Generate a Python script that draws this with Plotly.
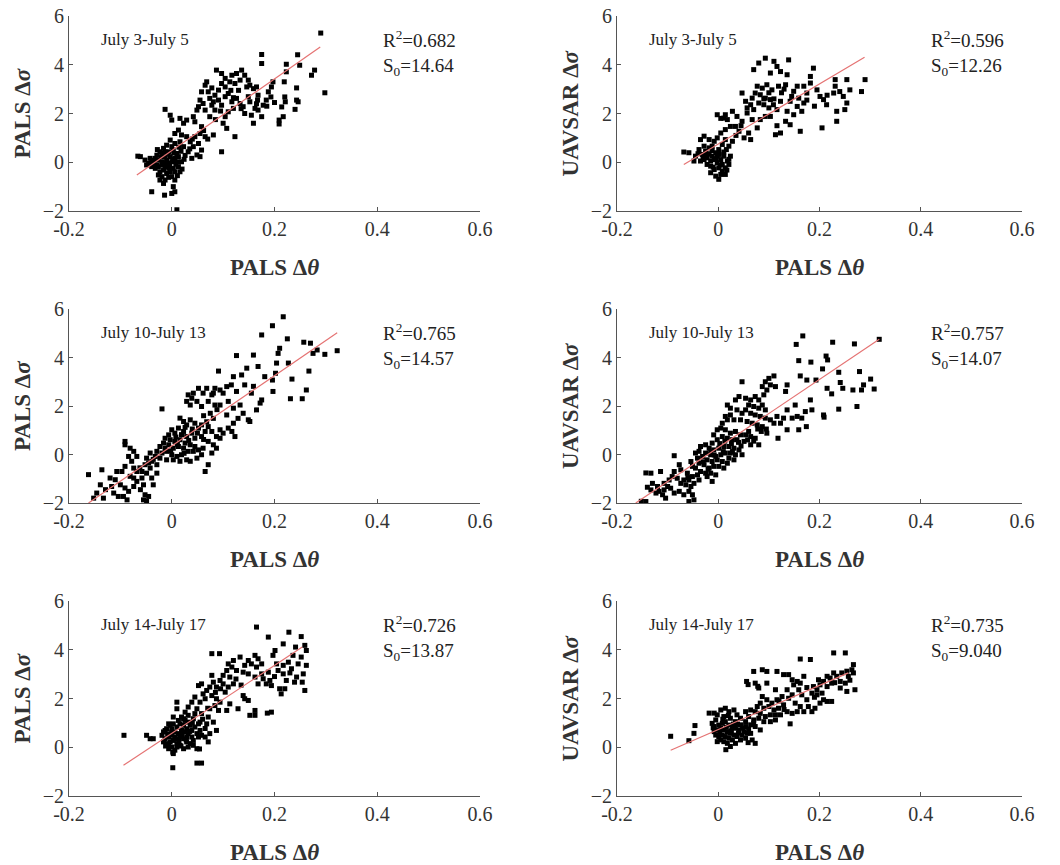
import plotly.graph_objects as go

# PALS dtheta vs PALS dsigma, July 3-5
pals_jul3 = [
    (0.29, 5.3), (0.298, 2.85), (0.278, 3.78), (0.272, 3.57), (0.245, 4.41), (0.249, 3.98),
    (0.175, 4.42), (0.175, 4.05), (0.223, 4.02), (0.223, 3.71), (0.219, 3.3), (0.243, 3.05),
    (0.243, 2.55), (0.24, 2.17), (0.246, 2.48), (0.22, 2.68), (0.221, 2.48), (0.214, 2.27),
    (0.209, 1.73), (0.209, 1.57), (0.217, 1.87), (0.197, 3.3), (0.194, 3.09), (0.188, 2.89),
    (0.184, 2.55), (0.193, 2.68), (0.178, 2.34), (0.168, 2.14), (0.175, 1.87), (0.159, 1.6),
    (0.167, 2.55), (0.168, 2.75), (0.162, 2.21), (0.152, 2.48), (0.155, 1.93), (0.142, 2.0),
    (0.139, 2.28), (0.149, 2.69), (0.087, 3.78), (0.097, 3.64), (0.104, 3.44), (0.117, 3.57),
    (0.126, 3.64), (0.136, 3.78), (0.142, 3.57), (0.133, 3.37), (0.149, 3.37), (0.152, 3.16),
    (0.159, 3.02), (0.165, 3.09), (0.146, 3.09), (0.123, 3.23), (0.113, 3.3), (0.104, 3.09),
    (0.097, 3.23), (0.091, 2.96), (0.084, 2.75), (0.068, 3.3), (0.065, 3.16), (0.071, 2.89),
    (0.058, 2.89), (0.055, 2.55), (0.061, 2.41), (0.052, 2.28), (0.049, 2.14), (0.074, 2.62),
    (0.081, 2.48), (0.091, 2.55), (0.097, 2.34), (0.104, 2.69), (0.11, 2.82), (0.117, 2.48),
    (0.126, 2.62), (0.133, 2.41), (0.12, 2.21), (0.11, 2.07), (0.104, 1.87), (0.1, 1.6),
    (0.107, 1.39), (0.123, 1.05), (0.097, 0.43), (0.078, 2.34), (0.084, 2.14), (0.065, 2.14),
    (0.074, 1.87), (0.042, 1.87), (0.045, 1.66), (0.029, 1.73), (0.023, 1.6), (0.016, 1.8),
    (0.0, 1.73), (-0.003, 1.93), (-0.013, 2.17), (0.058, 1.46), (0.055, 1.18), (0.065, 1.05),
    (0.081, 1.12), (0.045, 1.05), (0.036, 0.84), (0.052, 0.77), (0.042, 0.64), (0.058, 0.5),
    (0.049, 0.3), (0.055, 0.23), (0.032, 0.43), (0.023, 0.64), (0.029, 1.05), (0.013, 1.32),
    (0.006, 1.18), (0.019, 1.12), (0.016, 0.84), (0.039, 0.16), (-0.061, 0.23), (-0.052, 0.09),
    (-0.045, -0.05), (-0.039, 0.02), (-0.032, 0.16), (-0.026, 0.09), (-0.029, 0.29), (-0.019, 0.36),
    (-0.013, 0.23), (-0.006, 0.43), (0.0, 0.64), (0.006, 0.77), (-0.003, 0.91), (-0.01, 0.7),
    (-0.016, 0.57), (-0.023, 0.43), (-0.026, -0.18), (-0.019, -0.11), (-0.013, -0.18), (-0.006, -0.05),
    (0.0, 0.02), (0.006, 0.16), (0.01, 0.36), (0.013, 0.23), (0.003, -0.25), (-0.003, -0.39),
    (-0.01, -0.46), (-0.016, -0.32), (-0.023, -0.39), (-0.032, -0.25), (-0.039, -0.18), (-0.036, -0.05),
    (-0.042, 0.16), (-0.049, -0.11), (0.006, -0.39), (0.013, -0.18), (0.019, 0.02), (0.016, -0.39),
    (0.006, -0.73), (0.0, -0.59), (-0.013, -0.73), (-0.019, -0.59), (0.003, -1.0), (0.006, -1.21),
    (0.0, -1.28), (-0.014, -1.35), (-0.039, -1.21), (0.01, 0.02), (-0.01, 0.09), (-0.003, 0.23),
    (-0.019, 0.02), (-0.029, -0.11), (-0.006, -0.25), (-0.013, 0.43), (0.003, 0.5), (-0.026, -0.52),
    (-0.016, -0.87), (-0.023, -0.73), (0.01, -1.95), (-0.066, 0.25),
    (-0.008, 0.33), (0.004, 0.38), (-0.021, 0.22), (-0.035, 0.08), (0.008, -0.08), (-0.004, -0.14),
    (0.018, 0.45), (0.026, 0.28), (-0.012, -0.02), (0.002, 0.11), (0.014, 0.62), (-0.028, 0.52),
    (0.011, -0.55), (-0.006, -0.62), (0.02, -0.28), (0.024, 0.12), (0.035, 0.55), (0.04, 0.95),
    (0.062, 1.3), (0.07, 0.95), (0.085, 1.75), (0.095, 2.1), (0.12, 2.65), (0.13, 2.95),
    (0.185, 2.3), (0.2, 2.45), (0.165, 2.4), (0.135, 2.2), (0.115, 2.95), (0.078, 3.05),
]

# UAVSAR dsigma, July 3-5
uav_jul3 = [
    (0.093, 4.27), (0.11, 4.14), (0.139, 4.2), (0.116, 3.93), (0.07, 3.8), (0.103, 3.66),
    (0.123, 3.72), (0.136, 3.59), (0.08, 4.07), (0.254, 3.39), (0.29, 3.39), (0.283, 2.9),
    (0.26, 2.97), (0.231, 3.39), (0.231, 3.12), (0.228, 2.84), (0.247, 2.7), (0.254, 2.43),
    (0.25, 2.16), (0.234, 2.09), (0.234, 1.68), (0.205, 1.41), (0.208, 2.57), (0.214, 2.36),
    (0.201, 2.7), (0.195, 2.97), (0.182, 3.25), (0.188, 3.86), (0.182, 3.52), (0.169, 3.12),
    (0.175, 2.84), (0.159, 2.63), (0.169, 2.43), (0.156, 2.29), (0.165, 2.09), (0.149, 1.95),
    (0.162, 1.27), (0.142, 1.54), (0.133, 1.68), (0.123, 1.2), (0.113, 1.13), (0.116, 1.5),
    (0.136, 2.09), (0.142, 2.5), (0.149, 2.91), (0.156, 3.12), (0.133, 3.18), (0.119, 3.12),
    (0.106, 2.97), (0.096, 3.18), (0.087, 3.04), (0.077, 3.12), (0.073, 2.84), (0.083, 2.77),
    (0.093, 2.63), (0.103, 2.57), (0.109, 2.36), (0.123, 2.5), (0.116, 2.16), (0.1, 2.23),
    (0.09, 2.36), (0.08, 2.43), (0.067, 2.63), (0.064, 2.36), (0.07, 2.16), (0.057, 2.23),
    (0.057, 2.02), (0.047, 2.84), (0.054, 2.5), (0.103, 1.88), (0.093, 1.88), (0.083, 1.75),
    (0.077, 1.41), (0.067, 1.75), (0.06, 1.2), (0.064, 0.93), (0.051, 1.0), (0.041, 1.27),
    (0.034, 1.47), (0.047, 1.68), (0.037, 1.88), (0.028, 2.09), (0.014, 1.95), (0.018, 1.75),
    (0.011, 1.81), (0.024, 1.47), (0.014, 1.34), (0.005, 1.2), (-0.002, 1.0), (-0.008, 0.86),
    (-0.018, 0.93), (-0.028, 1.07), (-0.035, 0.93), (-0.058, 0.39), (-0.045, 0.25), (-0.038, 0.52),
    (-0.031, 0.32), (-0.025, 0.45), (-0.018, 0.59), (-0.012, 0.66), (-0.005, 0.39), (0.001, 0.52),
    (0.008, 0.73), (0.014, 0.93), (0.021, 0.66), (0.028, 0.86), (-0.028, 0.11), (-0.022, 0.18),
    (-0.015, 0.05), (-0.008, 0.11), (-0.002, -0.02), (0.005, 0.11), (0.011, 0.25), (0.018, 0.05),
    (-0.022, -0.09), (-0.015, -0.16), (-0.008, -0.3), (0.001, -0.23), (0.008, -0.36), (0.014, -0.23),
    (0.021, -0.09), (-0.005, -0.57), (0.005, -0.5), (0.014, -0.5), (-0.015, -0.43), (0.024, 0.25),
    (-0.035, 0.05), (-0.048, 0.05), (-0.028, 0.66), (-0.012, 0.25), (-0.002, 0.25), (0.008, -0.09),
    (-0.022, 0.32), (0.001, -0.7), (-0.068, 0.42), (-0.002, 1.95), (0.005, 1.8),
    (-0.018, 0.35), (-0.004, 0.15), (0.011, 0.42), (0.017, -0.32), (-0.01, -0.2), (0.002, 0.32),
    (-0.03, 0.22), (0.016, 0.52), (-0.04, 0.35), (0.021, 0.12), (0.004, -0.12), (-0.012, 0.48),
    (0.035, 1.1), (0.045, 1.5), (0.09, 2.6), (0.1, 2.85), (0.11, 2.6), (0.125, 2.85),
    (0.13, 3.0), (0.145, 2.7), (0.175, 2.55), (0.19, 2.3), (0.215, 2.75), (0.24, 2.9),
]

# PALS dsigma, July 10-13
pals_jul10 = [
    (0.217, 5.68), (0.196, 5.31), (0.175, 4.93), (0.225, 4.77), (0.257, 4.63), (0.27, 4.59),
    (0.275, 4.17), (0.283, 4.31), (0.298, 4.13), (0.322, 4.28), (0.21, 4.38), (0.207, 4.17),
    (0.227, 3.77), (0.204, 3.77), (0.202, 3.35), (0.196, 3.07), (0.197, 2.6), (0.181, 3.21),
    (0.168, 3.63), (0.159, 4.1), (0.126, 4.08), (0.146, 3.56), (0.136, 3.28), (0.12, 3.21),
    (0.116, 2.87), (0.142, 2.87), (0.159, 2.81), (0.155, 2.53), (0.175, 2.25), (0.172, 2.12),
    (0.165, 1.84), (0.149, 1.43), (0.152, 1.36), (0.126, 2.6), (0.231, 2.3), (0.254, 2.3),
    (0.267, 3.44), (0.262, 2.66), (0.234, 3.11), (0.091, 3.44), (0.107, 2.8), (0.1, 2.53),
    (0.094, 2.66), (0.081, 2.53), (0.084, 2.73), (0.078, 2.46), (0.068, 2.73), (0.061, 2.53),
    (0.052, 2.73), (0.042, 2.53), (0.039, 2.32), (0.049, 2.19), (0.036, 2.04), (0.058, 1.98),
    (0.071, 2.19), (0.084, 2.04), (0.094, 2.04), (0.11, 2.19), (0.12, 1.91), (0.133, 2.04),
    (0.139, 1.7), (0.129, 1.49), (0.12, 1.29), (0.11, 1.09), (0.094, 1.02), (0.081, 1.49),
    (0.107, 1.63), (-0.019, 1.88), (0.016, 1.5), (0.023, 1.36), (0.029, 1.22), (0.036, 1.43),
    (0.045, 1.29), (0.052, 1.09), (0.058, 1.22), (0.065, 0.95), (0.071, 1.15), (0.078, 0.95),
    (0.087, 0.74), (0.071, 0.54), (0.058, 0.74), (0.045, 0.67), (0.039, 0.88), (0.029, 0.74),
    (0.023, 0.95), (0.013, 1.09), (0.006, 0.88), (0.0, 1.02), (-0.006, 0.81), (-0.013, 0.67),
    (-0.003, 0.61), (0.006, 0.54), (0.016, 0.61), (0.026, 0.47), (0.036, 0.4), (0.045, 0.33),
    (0.052, 0.19), (0.042, 0.13), (0.032, 0.13), (0.023, 0.26), (0.013, 0.33), (0.003, 0.26),
    (-0.006, 0.4), (-0.016, 0.47), (-0.023, 0.33), (-0.029, 0.13), (-0.019, 0.06), (-0.01, 0.13),
    (0.0, -0.01), (0.01, -0.08), (0.019, -0.01), (0.029, -0.22), (0.016, -0.28), (0.003, -0.22),
    (-0.01, -0.22), (-0.023, -0.15), (-0.032, -0.08), (-0.042, 0.06), (-0.049, -0.15), (-0.039, -0.28),
    (-0.029, -0.42), (-0.042, -0.56), (-0.052, -0.42), (-0.058, -0.7), (-0.049, -0.77), (-0.058, -0.97),
    (-0.068, -1.11), (-0.055, -1.25), (-0.061, -1.45), (-0.052, -1.66), (-0.055, -1.87), (-0.049, -1.93),
    (-0.045, -1.73), (-0.068, -0.7), (-0.074, -0.56), (-0.078, -0.28), (-0.084, -0.08), (-0.081, 0.26),
    (-0.074, 0.13), (-0.068, -0.08), (-0.091, 0.4), (-0.091, 0.54), (-0.029, -0.77), (-0.039, -0.97),
    (-0.036, -1.25), (-0.162, -0.83), (-0.136, -0.63), (-0.139, -1.25), (-0.129, -1.45), (-0.12, -0.97),
    (-0.11, -1.04), (-0.1, -1.25), (-0.091, -1.38), (-0.084, -1.52), (-0.113, -1.59), (-0.104, -1.73),
    (-0.094, -1.73), (-0.087, -1.87), (-0.146, -1.59), (-0.133, -1.8), (-0.117, -1.32), (-0.074, -1.32),
    (-0.074, -0.97), (-0.081, -0.9), (-0.097, -0.7), (-0.107, -0.7), (-0.091, -0.49), (-0.152, -1.8),
    (0.071, -0.42), (0.065, -0.7), (0.081, 0.4), (0.094, 0.67), (0.1, 0.88), (0.117, 0.95),
    (0.123, 0.74), (0.087, 0.26), (0.078, 0.06), (0.061, 0.26), (0.058, -0.01), (0.049, -0.15),
    (0.036, -0.28), (0.029, 2.19), (0.032, 2.46),
    (0.008, 0.72), (0.019, 0.82), (0.033, 0.58), (0.04, 1.05), (0.05, 0.88), (0.062, 0.62),
    (0.026, 1.12), (0.011, 0.42), (-0.013, 0.25), (-0.036, -0.2), (-0.045, -0.35), (-0.062, -0.55),
    (0.068, 1.35), (0.075, 1.7), (0.088, 1.85), (0.062, 1.6), (-0.002, 0.15), (0.024, 0.05),
]

# UAVSAR dsigma, July 10-13
uav_jul10 = [
    (0.167, 4.89), (0.154, 4.54), (0.226, 4.63), (0.269, 4.56), (0.213, 4.06), (0.216, 3.9),
    (0.159, 3.87), (0.183, 3.81), (0.206, 3.53), (0.238, 3.39), (0.279, 3.42), (0.162, 3.24),
    (0.175, 3.07), (0.193, 3.07), (0.241, 2.97), (0.246, 2.73), (0.266, 2.66), (0.283, 2.66),
    (0.287, 2.87), (0.301, 3.11), (0.308, 2.7), (0.215, 2.73), (0.224, 2.5), (0.238, 1.87),
    (0.274, 1.98), (0.208, 1.63), (0.209, 1.54), (0.182, 2.25), (0.185, 1.84), (0.172, 1.77),
    (0.165, 1.5), (0.156, 1.57), (0.174, 1.15), (0.159, 1.02), (0.136, 1.02), (0.152, 2.04),
    (0.136, 1.84), (0.133, 2.6), (0.136, 2.87), (0.118, 0.67), (0.123, 1.29), (0.129, 1.5),
    (0.146, 1.5), (0.116, 1.57), (0.11, 1.29), (0.096, 0.88), (0.047, 3.0), (0.11, 3.24),
    (0.1, 3.14), (0.093, 3.0), (0.103, 2.87), (0.113, 2.8), (0.096, 2.66), (0.087, 2.8),
    (0.09, 2.46), (0.08, 2.25), (0.073, 2.39), (0.064, 2.25), (0.054, 2.32), (0.06, 2.04),
    (0.07, 1.98), (0.08, 1.91), (0.087, 2.04), (0.093, 1.84), (0.041, 2.39), (0.034, 2.25),
    (0.024, 1.91), (0.018, 2.04), (0.037, 1.84), (0.047, 1.7), (0.054, 1.84), (0.064, 1.7),
    (0.073, 1.63), (0.083, 1.57), (0.093, 1.5), (0.103, 1.43), (0.024, 1.63), (0.014, 1.57),
    (0.018, 1.43), (0.031, 1.43), (0.044, 1.43), (0.057, 1.36), (0.067, 1.29), (0.077, 1.22),
    (0.087, 1.15), (0.008, 1.29), (0.005, 1.09), (-0.002, 1.02), (-0.009, 0.81), (0.014, 1.02),
    (0.024, 0.88), (0.034, 0.95), (0.044, 0.81), (0.054, 0.81), (0.064, 0.74), (0.073, 0.67),
    (0.08, 0.4), (0.064, 0.4), (0.051, 0.54), (0.037, 0.61), (0.028, 0.61), (0.018, 0.67),
    (0.008, 0.74), (-0.002, 0.61), (-0.012, 0.47), (-0.018, 0.26), (-0.009, 0.19), (0.001, 0.26),
    (0.011, 0.33), (0.021, 0.33), (0.031, 0.26), (0.041, 0.19), (0.047, -0.01), (0.034, -0.01),
    (0.024, 0.06), (0.014, 0.06), (0.005, -0.01), (-0.005, -0.08), (-0.015, -0.01), (-0.025, 0.06),
    (-0.031, -0.08), (-0.022, -0.22), (-0.012, -0.29), (-0.002, -0.22), (0.008, -0.29), (0.018, -0.36),
    (0.011, -0.56), (0.001, -0.49), (-0.009, -0.49), (-0.018, -0.56), (-0.028, -0.42), (-0.038, -0.36),
    (-0.045, -0.56), (-0.035, -0.7), (-0.025, -0.77), (-0.015, -0.77), (-0.005, -0.84), (-0.041, -0.84),
    (-0.051, -0.91), (-0.061, -0.77), (-0.058, -1.05), (-0.048, -1.19), (-0.064, -1.25), (-0.074, -1.19),
    (-0.068, -1.05), (-0.054, -1.32), (-0.051, -0.49), (-0.041, -0.15), (-0.038, 0.13), (-0.045, 0.06),
    (-0.054, -0.29), (-0.035, 0.33), (-0.025, 0.4), (0.021, -0.15), (0.031, -0.22), (-0.087, -0.05),
    (-0.077, -0.42), (-0.087, -0.7), (-0.081, -0.98), (-0.091, -0.91), (-0.097, -1.05), (-0.107, -1.19),
    (-0.1, -1.32), (-0.094, -1.39), (-0.107, -1.46), (-0.117, -1.52), (-0.11, -1.66), (-0.123, -1.59),
    (-0.133, -1.46), (-0.13, -1.19), (-0.133, -0.77), (-0.114, -0.7), (-0.12, -1.32), (-0.087, -1.59),
    (-0.077, -1.52), (-0.068, -1.66), (-0.058, -1.52), (-0.051, -1.66), (-0.048, -1.87), (-0.058, -1.94),
    (-0.143, -1.94), (-0.104, -1.8), (-0.074, -0.63), (-0.038, -1.05), (-0.022, -0.91), (-0.012, -1.11),
    (-0.143, -0.76), (-0.14, -1.35), (-0.152, -1.93), (0.318, 4.75),
    (0.003, 0.45), (0.013, 0.55), (0.026, 0.45), (0.04, 0.5), (0.058, 0.6), (0.07, 0.55),
    (0.085, 0.95), (0.095, 1.05), (-0.008, -0.02), (-0.03, -0.3), (-0.02, -0.6), (-0.06, -0.95),
    (0.01, 0.12), (0.028, 0.12), (0.045, 0.35), (-0.015, 0.1), (0.06, 0.95), (0.078, 1.05),
]

# PALS dsigma, July 14-17
pals_jul14 = [
    (0.188, 4.52), (0.228, 4.72), (0.252, 4.54), (0.217, 4.24), (0.241, 4.11), (0.259, 4.18),
    (0.262, 3.97), (0.201, 3.97), (0.197, 3.77), (0.236, 3.77), (0.252, 3.7), (0.227, 3.49),
    (0.217, 3.36), (0.246, 3.42), (0.262, 3.36), (0.233, 3.22), (0.256, 3.01), (0.243, 2.88),
    (0.254, 2.67), (0.259, 2.33), (0.239, 2.67), (0.223, 2.74), (0.217, 3.01), (0.207, 3.15),
    (0.204, 3.42), (0.22, 2.4), (0.21, 2.4), (0.213, 2.19), (0.191, 2.74), (0.184, 2.6),
    (0.194, 2.53), (0.178, 2.81), (0.175, 3.01), (0.188, 3.08), (0.175, 3.42), (0.168, 3.63),
    (0.162, 3.77), (0.165, 3.29), (0.155, 3.42), (0.149, 3.56), (0.142, 3.36), (0.139, 3.08),
    (0.149, 3.01), (0.162, 2.88), (0.168, 2.6), (0.133, 3.7), (0.12, 3.56), (0.117, 3.29),
    (0.126, 3.15), (0.11, 3.42), (0.107, 3.15), (0.1, 2.95), (0.113, 2.88), (0.12, 2.6),
    (0.11, 2.47), (0.1, 2.6), (0.094, 2.74), (0.087, 2.47), (0.104, 2.26), (0.078, 3.84),
    (0.093, 3.84), (0.139, 2.12), (0.142, 1.99), (0.149, 1.92), (0.129, 1.58), (0.162, 1.51),
    (0.152, 1.31), (0.162, 1.31), (0.194, 1.44), (0.078, 2.95), (0.081, 2.67), (0.074, 2.47),
    (0.068, 2.33), (0.061, 2.19), (0.058, 2.6), (0.052, 2.53), (0.065, 1.99), (0.078, 2.12),
    (0.087, 1.99), (0.094, 1.85), (0.084, 1.71), (0.074, 1.58), (0.091, 1.51), (0.107, 1.51),
    (0.113, 1.78), (0.055, 1.85), (0.045, 2.06), (0.039, 1.85), (0.032, 1.65), (0.049, 1.58),
    (0.058, 1.38), (0.045, 1.38), (0.071, 1.24), (0.081, 1.03), (0.068, 0.96), (0.055, 1.03),
    (0.042, 1.17), (0.032, 1.31), (0.026, 1.44), (0.01, 1.85), (0.01, 1.58), (0.019, 1.24),
    (0.026, 1.1), (0.065, 0.77), (0.055, 0.69), (0.074, 0.56), (0.087, 0.69), (0.065, 0.42),
    (0.071, 0.22), (0.052, 0.42), (0.042, 0.28), (-0.016, 0.63), (-0.01, 0.76), (-0.003, 0.9),
    (0.003, 0.96), (0.01, 0.83), (0.016, 0.96), (0.023, 0.9), (0.029, 0.76), (0.036, 0.9),
    (0.039, 0.69), (0.032, 0.56), (0.026, 0.63), (0.019, 0.69), (0.013, 0.56), (0.006, 0.63),
    (0.0, 0.49), (-0.006, 0.42), (-0.013, 0.35), (-0.019, 0.49), (-0.016, 0.22), (-0.01, 0.15),
    (-0.003, 0.22), (0.003, 0.28), (0.01, 0.35), (0.016, 0.42), (0.023, 0.35), (0.029, 0.22),
    (0.036, 0.15), (0.016, 0.08), (0.01, 0.01), (0.0, 0.01), (-0.006, -0.06), (0.006, -0.12),
    (0.023, -0.06), (0.042, 0.08), (0.049, -0.06), (0.003, -0.26), (-0.006, 0.08), (-0.013, 0.69),
    (0.0, 0.76), (0.013, 1.1), (0.003, 1.24), (-0.006, 0.96), (0.023, 1.17), (0.032, 1.03),
    (0.045, 0.83), (0.049, 0.56), (0.039, 0.42), (0.029, 0.42), (0.019, 0.49), (0.01, 0.15),
    (0.032, 0.01), (0.052, 0.96), (0.058, 0.49), (-0.049, 0.49), (-0.042, 0.35), (-0.036, 0.35),
    (-0.093, 0.49), (0.002, -0.2), (0.002, -0.84), (0.049, -0.65), (0.058, -0.65), (0.054, -0.07),
    (0.186, 1.4), (0.165, 4.93),
    (0.006, 0.42), (0.014, 0.25), (0.02, 0.58), (-0.008, 0.55), (0.028, 0.3), (0.035, 0.65),
    (-0.012, 0.05), (0.0, 0.62), (0.018, 0.05), (0.04, 1.0), (0.06, 1.15), (0.07, 1.6),
    (0.085, 2.25), (0.095, 2.4), (0.125, 2.8), (0.135, 2.55), (0.2, 2.9), (0.23, 3.05),
]

# UAVSAR dsigma, July 14-17
uav_jul14 = [
    (0.251, 3.87), (0.182, 3.6), (0.267, 3.39), (0.264, 3.18), (0.254, 3.12), (0.244, 3.05),
    (0.234, 2.91), (0.228, 3.05), (0.221, 2.84), (0.215, 2.91), (0.208, 2.7), (0.201, 2.56),
    (0.195, 2.36), (0.205, 2.22), (0.195, 2.15), (0.185, 2.22), (0.188, 2.49), (0.198, 2.77),
    (0.215, 2.49), (0.224, 2.63), (0.241, 2.7), (0.251, 2.63), (0.257, 2.91), (0.267, 3.05),
    (0.27, 2.36), (0.254, 2.29), (0.241, 2.43), (0.215, 1.88), (0.224, 1.88), (0.208, 1.95),
    (0.201, 1.81), (0.191, 1.6), (0.185, 1.46), (0.178, 1.67), (0.175, 1.95), (0.165, 2.15),
    (0.159, 2.36), (0.156, 2.7), (0.146, 2.77), (0.149, 2.56), (0.162, 2.63), (0.169, 2.91),
    (0.116, 3.11), (0.087, 3.18), (0.073, 2.63), (0.08, 2.43), (0.096, 2.63), (0.113, 2.36),
    (0.136, 2.36), (0.146, 2.15), (0.139, 2.01), (0.126, 2.08), (0.116, 1.95), (0.106, 1.81),
    (0.096, 1.95), (0.087, 2.08), (0.083, 1.81), (0.077, 1.67), (0.09, 1.6), (0.1, 1.67),
    (0.11, 1.53), (0.119, 1.6), (0.129, 1.74), (0.152, 1.81), (0.162, 1.67), (0.156, 1.46),
    (0.169, 1.46), (0.146, 1.39), (0.136, 1.46), (0.123, 1.33), (0.113, 1.33), (0.103, 1.33),
    (0.093, 1.26), (0.083, 1.39), (0.073, 1.46), (0.064, 1.53), (0.054, 1.46), (0.06, 1.26),
    (0.07, 1.12), (0.08, 1.19), (0.09, 1.05), (0.103, 1.05), (0.113, 1.12), (0.054, 1.05),
    (0.044, 1.19), (0.037, 1.33), (0.031, 1.53), (0.021, 1.46), (0.014, 1.6), (0.005, 1.53),
    (-0.002, 1.33), (-0.008, 1.4), (0.011, 1.26), (0.024, 1.19), (0.034, 1.05), (0.044, 0.92),
    (0.054, 0.85), (0.064, 0.92), (0.073, 0.85), (0.083, 0.71), (0.051, 0.64), (0.064, 0.57),
    (0.162, 3.62), (0.228, 3.87), (0.07, 3.11), (0.096, 3.11), (0.056, 2.7), (0.059, 2.57),
    (0.078, 2.5), (0.129, 2.98), (0.139, 2.98), (0.142, 0.96), (0.059, 0.19), (0.001, 0.91),
    (0.008, 0.98), (0.014, 1.05), (0.021, 0.91), (0.028, 0.85), (0.034, 0.78), (0.041, 0.71),
    (0.005, 0.78), (0.011, 0.71), (0.018, 0.64), (0.024, 0.57), (0.031, 0.5), (0.037, 0.44),
    (-0.002, 0.71), (-0.008, 0.64), (-0.005, 0.5), (0.001, 0.44), (0.008, 0.5), (0.014, 0.44),
    (0.021, 0.37), (0.028, 0.3), (0.005, 0.3), (0.011, 0.23), (-0.002, 0.23), (0.018, 0.16),
    (0.044, 0.3), (0.054, 0.37), (0.047, 0.5), (0.057, 0.57), (-0.005, 1.12), (-0.012, 0.98),
    (-0.008, 0.85), (0.024, 0.03), (0.034, 0.16), (0.067, 0.3), (0.073, 0.16), (0.015, -0.1),
    (-0.094, 0.45), (-0.058, 0.27), (-0.046, 0.89), (-0.018, 1.4), (-0.048, 0.57),
    (0.003, 0.62), (0.016, 0.82), (0.026, 0.68), (0.038, 0.95), (0.048, 0.78), (-0.01, 0.8),
    (0.009, 1.15), (0.02, 1.3), (0.03, 0.95), (0.04, 0.58), (0.06, 0.75), (0.07, 0.98),
    (0.12, 1.9), (0.13, 1.55), (0.175, 2.45), (0.19, 2.05), (0.23, 2.65), (0.26, 2.75),
]

# fitted lines (end points)
fit_x = [[-0.068, 0.289], [-0.068, 0.289], [-0.162, 0.322], [-0.163, 0.318], [-0.094, 0.254], [-0.094, 0.257]]
fit_y = [[-0.52, 4.73], [-0.09, 4.31], [-2.0, 5.02], [-2.0, 4.75], [-0.74, 4.11], [-0.12, 3.05]]

periods = ["July 3-July 5", "July 3-July 5", "July 10-July 13", "July 10-July 13",
           "July 14-July 17", "July 14-July 17"]
r2 = ["0.682", "0.596", "0.765", "0.757", "0.726", "0.735"]
s0 = ["14.64", "12.26", "14.57", "14.07", "13.87", "9.040"]
ylabels = ["PALS Δ<i>σ</i>", "UAVSAR Δ<i>σ</i>"] * 3
panels = [pals_jul3, uav_jul3, pals_jul10, uav_jul10, pals_jul14, uav_jul14]

# the page body keeps its default 8px margin, so the figure is drawn 8px in
OFF = 8
PAGE_W, PAGE_H = 1060, 865
W, H = PAGE_W - OFF, PAGE_H - OFF
serif = "Liberation Serif, Times New Roman, serif"

# plot boxes in page pixels: (left, right) per column, (top, bottom) per row
cols_px = [(69, 480), (617, 1022)]
rows_px = [(16, 211), (309, 503), (601, 796)]

ML, MR, MT, MB = 69 - OFF, PAGE_W - 1022, 16 - OFF, PAGE_H - 796
PW, PH = W - ML - MR, H - MT - MB


def px(x):
    return (x - OFF - ML) / PW


def py(y):
    return 1 - (y - OFF - MT) / PH


fig = go.Figure()
layout = dict(width=W, height=H, margin=dict(l=ML, r=MR, t=MT, b=MB, autoexpand=False),
              paper_bgcolor="white", plot_bgcolor="white", showlegend=False)
annotations = []

for i, pts in enumerate(panels):
    r, c = divmod(i, 2)
    n = i + 1
    xs = [p[0] for p in pts]
    ys = [p[1] for p in pts]
    xa = "x" if n == 1 else f"x{n}"
    ya = "y" if n == 1 else f"y{n}"

    fig.add_trace(go.Scatter(x=xs, y=ys, mode="markers", xaxis=xa, yaxis=ya,
                             marker=dict(symbol="square", size=5, color="black", line=dict(width=0))))
    fig.add_trace(go.Scatter(x=fit_x[i], y=fit_y[i], mode="lines", xaxis=xa, yaxis=ya,
                             line=dict(color="#e57373", width=1.2)))

    (l, rr), (t, b) = cols_px[c], rows_px[r]
    axis_common = dict(showline=True, linecolor="#555", linewidth=1, ticks="inside",
                       ticklen=4, tickcolor="#555", showgrid=False, zeroline=False,
                       automargin=False, ticklabeloverflow="allow",
                       tickfont=dict(family=serif, size=20, color="#333"))
    layout["xaxis" if n == 1 else f"xaxis{n}"] = dict(
        axis_common, domain=[px(l), px(rr)], range=[-0.2, 0.6],
        tickvals=[-0.2, 0, 0.2, 0.4, 0.6], ticktext=["-0.2", "0", "0.2", "0.4", "0.6"],
        anchor=ya)
    layout["yaxis" if n == 1 else f"yaxis{n}"] = dict(
        axis_common, domain=[py(b), py(t)], range=[-2, 6],
        tickvals=[-2, 0, 2, 4, 6], anchor=xa)

    # axis titles
    annotations.append(dict(x=px((l + rr) / 2), y=py(b + 56), xref="paper", yref="paper",
                            xanchor="center", yanchor="middle",
                            text="<b>PALS Δ<i>θ</i></b>", showarrow=False,
                            font=dict(family=serif, size=23, color="#333")))
    annotations.append(dict(x=px(l - 47), y=py((t + b) / 2), xref="paper", yref="paper",
                            xanchor="center", yanchor="middle",
                            text="<b>" + ylabels[i] + "</b>", textangle=-90, showarrow=False,
                            font=dict(family=serif, size=23, color="#333")))
    # period label
    annotations.append(dict(x=px(l + 30), y=py(t + 23), xref="paper", yref="paper",
                            xanchor="left", yanchor="middle", text=periods[i], showarrow=False,
                            font=dict(family=serif, size=17, color="#222")))
    # stats
    annotations.append(dict(x=px(l + 312), y=py(t + 37), xref="paper", yref="paper",
                            xanchor="left", yanchor="middle", align="left", showarrow=False,
                            text="R<sup>2</sup>=%s<br>S<sub>0</sub>=%s" % (r2[i], s0[i]),
                            font=dict(family=serif, size=19, color="#222")))

layout["annotations"] = annotations
fig.update_layout(**layout)
fig.write_html("out.html")
